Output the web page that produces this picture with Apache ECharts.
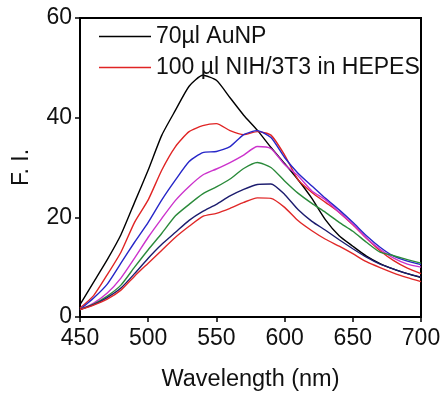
<!DOCTYPE html>
<html>
<head>
<meta charset="utf-8">
<style>
  html, body { margin: 0; padding: 0; background: #fff; }
  #chart { width: 446px; height: 397px; }
</style>
<script src="https://cdn.jsdelivr.net/npm/echarts@6/dist/echarts.min.js"></script>
</head>
<body>
<div id="chart"></div>
<script>
// Emission wavelengths (nm)
const wavelengths = [450, 460, 470, 480, 490, 500, 510, 520, 530, 540, 550, 560, 570,
                     580, 590, 600, 610, 620, 630, 640, 650, 660, 670, 680, 690, 700];

// Fluorescence intensity spectra
const auNP = [2.5, 7, 11.5, 16.5, 23, 29.5, 36.5, 41.5, 46.3, 48.5, 47.5, 44, 40.5,
              37.5, 34, 30.8, 27.5, 23.8, 19.5, 16.3, 14.2, 12.2, 10.7, 9.6, 8.7, 7.9];
const cells1 = [1.8, 4.3, 8.5, 13, 19, 23.5, 29.5, 34.2, 37.2, 38.4, 38.8, 37.4, 36.6,
                37.2, 36.5, 32.5, 27.5, 25, 23, 21, 18.5, 15.8, 13.3, 11.3, 9.8, 8.7];
const cells2 = [1.5, 3.8, 6.6, 10.8, 15, 19, 23.5, 27.5, 31.2, 33, 33.2, 34.2, 36.6,
                37.4, 36, 32, 28.8, 26.3, 23.8, 21.5, 19, 16.3, 14, 12.2, 11.2, 10.5];
const cells3 = [1.5, 2.8, 4.8, 7.8, 11.8, 16, 19.8, 23.4, 26.2, 28.5, 29.7, 31, 32.5,
                34.2, 33.8, 30.6, 28.3, 25.3, 23.5, 21, 18.6, 15.8, 13.6, 11.8, 10.6, 10];
const cells4 = [1.5, 2.6, 4.2, 6.4, 10, 13.5, 16.8, 20.3, 22.6, 24.7, 26.1, 27.7, 29.8,
                31, 30, 27.3, 24.8, 22.8, 21, 19, 17.2, 15, 13, 12.3, 11.5, 10.8];
const cells5 = [1.5, 2.5, 3.9, 5.8, 8.7, 11.8, 14.6, 17, 19.4, 21.2, 22.6, 24.3, 25.6,
                26.6, 26.7, 24.6, 21.5, 19.2, 17.4, 15.5, 13.7, 12, 10.6, 9.6, 8.7, 8];
const cells6 = [1.5, 2.4, 3.6, 5.4, 8.2, 10.8, 13.4, 16, 18.2, 20.2, 20.8, 21.8, 23,
                23.9, 23.8, 22, 19.3, 17.3, 15.6, 14.2, 12.7, 11.1, 9.9, 8.8, 7.9, 7.1];

const xTicks = [450, 500, 550, 600, 650, 700];
const yTicks = [0, 20, 40, 60];

const seriesDefs = [
  { name: '70µl AuNP', values: auNP, color: '#000000' },
  { name: '100 µl NIH/3T3 in HEPES', values: cells1, color: '#e02424' },
  { name: 'NIH/3T3 b', values: cells2, color: '#2626c8' },
  { name: 'NIH/3T3 c', values: cells3, color: '#cc33cc' },
  { name: 'NIH/3T3 d', values: cells4, color: '#2a8a3a' },
  { name: 'NIH/3T3 e', values: cells5, color: '#1c1c6e' },
  { name: 'NIH/3T3 f', values: cells6, color: '#e02828' }
];

const font = 'Liberation Sans, Arial, sans-serif';
const textColor = '#111';

const chart = echarts.init(document.getElementById('chart'), null, { renderer: 'canvas' });

chart.setOption({
  backgroundColor: '#fff',
  animation: false,
  grid: {
    left: 80, right: 25, top: 18, bottom: 80,
    show: true, borderColor: '#000', borderWidth: 2, backgroundColor: 'transparent'
  },
  legend: {
    data: [seriesDefs[0].name, seriesDefs[1].name],
    orient: 'vertical',
    left: 94, top: 20,
    itemWidth: 52, itemHeight: 14, itemGap: 8,
    icon: 'path://M0,6 L52,6 L52,7.5 L0,7.5 Z',
    textStyle: { fontFamily: font, fontSize: 23, color: textColor, padding: [0, 0, 0, 0] }
  },
  xAxis: {
    type: 'value',
    min: 450, max: 700, interval: 50,
    name: 'Wavelength (nm)',
    nameLocation: 'middle', nameGap: 51,
    nameTextStyle: { fontFamily: font, fontSize: 23.5, color: textColor },
    axisLine: { show: true, lineStyle: { color: '#000', width: 2 } },
    axisTick: { show: true, inside: false, length: 5, lineStyle: { color: '#000', width: 1.5 } },
    axisLabel: {
      fontFamily: font, fontSize: 23, color: textColor, margin: 10,
      formatter: v => (xTicks.includes(v) ? String(v) : '')
    },
    splitLine: { show: false }
  },
  yAxis: {
    type: 'value',
    min: 0, max: 60, interval: 20,
    name: 'F. I.',
    nameLocation: 'middle', nameGap: 47, nameRotate: 90,
    nameTextStyle: { fontFamily: font, fontSize: 23, color: textColor },
    axisLine: { show: true, lineStyle: { color: '#000', width: 2 } },
    axisTick: { show: true, inside: false, length: 5, lineStyle: { color: '#000', width: 1.5 } },
    axisLabel: {
      fontFamily: font, fontSize: 23, color: textColor, margin: 8,
      formatter: v => (yTicks.includes(v) ? String(v) : '')
    },
    splitLine: { show: false }
  },
  series: seriesDefs.map(s => ({
    name: s.name,
    type: 'line',
    data: wavelengths.map((w, i) => [w, s.values[i]]),
    symbol: 'none',
    smooth: 0.2,
    lineStyle: { color: s.color, width: 1.4 },
    itemStyle: { color: s.color },
    z: 2
  }))
});
</script>
</body>
</html>
